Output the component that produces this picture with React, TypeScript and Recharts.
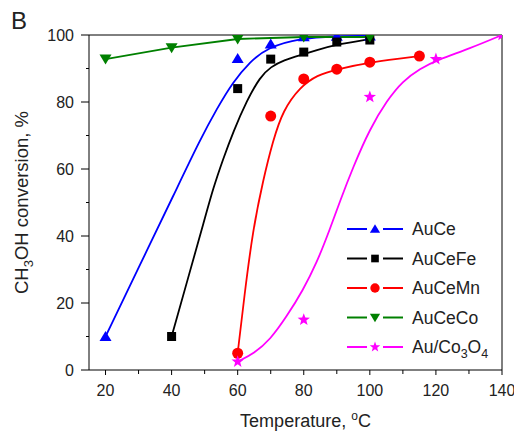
import {
  ComposedChart,
  Line,
  Scatter,
  XAxis,
  YAxis,
  ReferenceLine,
  Legend,
} from 'recharts';

type Pt = { x: number; y: number };
const pts = (a: number[][]): Pt[] => a.map(([x, y]) => ({ x, y }));

// axis ticks
const xTicks = [20, 30, 40, 50, 60, 70, 80, 90, 100, 110, 120, 130, 140];
const xLabels = [20, 40, 60, 80, 100, 120, 140];
const yTicks = [0, 10, 20, 30, 40, 50, 60, 70, 80, 90, 100];
const yLabels = [0, 20, 40, 60, 80, 100];

// measured points (markers)
const auCePts = pts([[20, 10], [60, 93], [70, 97.3], [80, 99.5], [90, 99.6], [100, 99.7]]);
const auCeFePts = pts([[40, 10], [60, 84], [70, 92.8], [80, 94.9], [90, 97.9], [100, 98.5]]);
const auCeMnPts = pts([[60, 5], [70, 75.8], [80, 86.9], [90, 89.8], [100, 91.9], [115, 93.7]]);
const auCeCoPts = pts([[20, 92.8], [40, 96.2], [60, 98.8], [80, 99.4], [100, 99.4]]);
const auCo3O4Pts = pts([[60, 2.5], [80, 15], [100, 81.5], [120, 92.8], [140, 100]]);

// fitted curves
const auCeCurve = pts([
  [20, 10], [30, 30.5], [41, 53], [48.6, 68.7], [53.7, 78], [58.6, 86],
  [63.7, 92], [68.9, 96.2], [78.9, 99.1], [90, 99.6], [100, 99.8],
]);
const auCeFeCurve = pts([
  [40, 10], [45, 27.5], [50, 45], [52.5, 54], [55.6, 63], [58.6, 71], [62.8, 80.5], [66.8, 87.5],
  [70, 90.5], [74, 92.5], [79, 94], [84, 95.5], [89, 97], [100, 98.8],
]);
const auCeMnCurve = pts([
  [60, 5], [62, 22], [64.6, 41.8], [67.7, 56.7], [70.7, 68.5], [73.7, 77.5],
  [78.9, 84.5], [84, 88], [90, 89.8], [100, 91.9], [115, 93.7],
]);
const auCo3O4Curve = pts([
  [60, 2.5], [65, 5], [69.8, 9], [74.8, 15.9], [79.8, 23.9], [83.9, 31.9], [87.9, 42],
  [91, 50.5], [94.9, 60.5], [100, 72], [105.2, 80.5], [110, 86.3], [115.2, 90],
  [120.3, 92.5], [130.3, 96], [140, 100],
]);

const FONT = '"Liberation Sans", Arial, Helvetica, sans-serif';
const TXT = '#222';

type Kind = 'up' | 'down' | 'square' | 'circle' | 'star';

const Marker = ({ cx, cy, kind, color, s = 1 }: { cx: number; cy: number; kind: Kind; color: string; s?: number }) => {
  if (kind === 'up')
    return <polygon points={`${cx},${cy - 5.5 * s} ${cx + 6 * s},${cy + 4.5 * s} ${cx - 6 * s},${cy + 4.5 * s}`} fill={color} />;
  if (kind === 'down')
    return <polygon points={`${cx},${cy + 5.5 * s} ${cx + 6 * s},${cy - 4.5 * s} ${cx - 6 * s},${cy - 4.5 * s}`} fill={color} />;
  if (kind === 'square')
    return <rect x={cx - 4.5 * s} y={cy - 4.5 * s} width={9 * s} height={9 * s} fill={color} />;
  if (kind === 'circle') return <circle cx={cx} cy={cy} r={5.5 * s} fill={color} />;
  const p = Array.from({ length: 10 }, (_, i) => {
    const a = -Math.PI / 2 + (i * Math.PI) / 5;
    const r = (i % 2 ? 2.7 : 6.5) * s;
    return `${cx + r * Math.cos(a)},${cy + r * Math.sin(a)}`;
  }).join(' ');
  return <polygon points={p} fill={color} />;
};

const series = [
  { name: 'AuCe', color: '#0000ff', kind: 'up' as Kind },
  { name: 'AuCeFe', color: '#000000', kind: 'square' as Kind },
  { name: 'AuCeMn', color: '#ff0000', kind: 'circle' as Kind },
  { name: 'AuCeCo', color: '#008000', kind: 'down' as Kind },
  { name: 'Au/Co3O4', color: '#ff00ff', kind: 'star' as Kind },
];

const XTick = (p: any) => {
  const v = p.payload.value;
  const major = xLabels.includes(v);
  return (
    <g>
      <line x1={p.x} x2={p.x} y1={p.y} y2={p.y + (major ? 5 : 4)} stroke="#000" />
      {major && (
        <text x={p.x} y={p.y + 15} dy="0.71em" textAnchor="middle" fontSize={16} fill={TXT} fontFamily={FONT}>
          {v}
        </text>
      )}
    </g>
  );
};

const YTick = (p: any) => {
  const v = p.payload.value;
  const major = yLabels.includes(v);
  return (
    <g>
      <line x1={p.x - (major ? 8 : 3)} x2={p.x} y1={p.y} y2={p.y} stroke="#000" />
      {major && (
        <text x={p.x - 15} y={p.y} dy="0.355em" textAnchor="end" fontSize={16} fill={TXT} fontFamily={FONT}>
          {v}
        </text>
      )}
    </g>
  );
};

const XTitle = (p: any) => {
  const vb = p.viewBox;
  return (
    <text x={vb.x + vb.width / 2 + 10} y={vb.y + 57} textAnchor="middle" fontSize={18} fill={TXT} fontFamily={FONT}>
      Temperature,{' '}
      <tspan dy={-7} fontSize={12}>o</tspan>
      <tspan dy={7}>C</tspan>
    </text>
  );
};

const YTitle = (p: any) => {
  const vb = p.viewBox;
  const cx = vb.x - 1;
  const cy = vb.y + vb.height / 2;
  return (
    <text x={cx} y={cy} textAnchor="middle" fontSize={18.5} fill={TXT} fontFamily={FONT} transform={`rotate(-90, ${cx}, ${cy})`}>
      CH<tspan dy={5} fontSize={13}>3</tspan>
      <tspan dy={-5}>OH conversion, %</tspan>
    </text>
  );
};

const LegendBox = () => (
  <svg width={174} height={150} style={{ display: 'block' }}>
    {series.map((s, i) => {
      const y = 17 + i * 29.5;
      return (
        <g key={s.name}>
          <line x1={7} x2={27} y1={y} y2={y} stroke={s.color} strokeWidth={2} />
          <line x1={43} x2={63} y1={y} y2={y} stroke={s.color} strokeWidth={2} />
          <Marker cx={35} cy={y} kind={s.kind} color={s.color} s={0.85} />
          <text x={72} y={y} dy="0.355em" fontSize={17.5} fill={TXT} fontFamily={FONT}>
            {s.name === 'Au/Co3O4' ? (
              <>
                Au/Co<tspan dy={5} fontSize={12.5}>3</tspan>
                <tspan dy={-5}>O</tspan>
                <tspan dy={5} fontSize={12.5}>4</tspan>
              </>
            ) : (
              s.name
            )}
          </text>
        </g>
      );
    })}
  </svg>
);

const curves = [auCeCurve, auCeFeCurve, auCeMnCurve, auCeCurve, auCo3O4Curve];
const markers = [auCePts, auCeFePts, auCeMnPts, auCeCoPts, auCo3O4Pts];

const App = () => {
  return (
    <div style={{ position: 'absolute', left: 0, top: 0, width: 514, height: 431, background: '#fff' }}>
      <ComposedChart width={514} height={431} margin={{ top: 35, right: 12, bottom: 31, left: 29 }}>
        <XAxis
          dataKey="x"
          type="number"
          domain={[15, 140]}
          ticks={xTicks}
          interval={0}
          allowDataOverflow
          tickSize={0}
          tickMargin={0}
          tickLine={false}
          tick={<XTick />}
          axisLine={{ stroke: '#000' }}
          height={30}
          label={XTitle}
        />
        <YAxis
          type="number"
          domain={[0, 100]}
          ticks={yTicks}
          interval={0}
          allowDataOverflow
          tickSize={0}
          tickMargin={0}
          tickLine={false}
          tick={<YTick />}
          axisLine={{ stroke: '#000' }}
          width={60}
          label={YTitle}
        />
        <ReferenceLine y={100} stroke="#000" />
        <ReferenceLine x={140} stroke="#000" />
        {series.map((s, i) => [
          s.name === 'AuCeCo' ? (
            <Line
              key={s.name + '-l'}
              data={markers[i]}
              dataKey="y"
              type="linear"
              stroke={s.color}
              strokeWidth={1.8}
              dot={false}
              activeDot={false}
              isAnimationActive={false}
              legendType="none"
            />
          ) : (
            <Line
              key={s.name + '-l'}
              data={curves[i]}
              dataKey="y"
              type="basis"
              stroke={s.color}
              strokeWidth={1.8}
              dot={false}
              activeDot={false}
              isAnimationActive={false}
              legendType="none"
            />
          ),
          <Scatter
            key={s.name + '-s'}
            data={markers[i]}
            dataKey="y"
            isAnimationActive={false}
            legendType="none"
            shape={(p: any) => <Marker cx={p.cx} cy={p.cy} kind={s.kind} color={s.color} />}
          />,
        ])}
        <Legend
          layout="vertical"
          align="center"
          verticalAlign="middle"
          wrapperStyle={{ left: 340, top: 212, width: 174, height: 150 }}
          content={() => <LegendBox />}
        />
        <text x={11} y={29} fontSize={24} fill={TXT} fontFamily={FONT}>
          B
        </text>
      </ComposedChart>
    </div>
  );
};

export default App;
